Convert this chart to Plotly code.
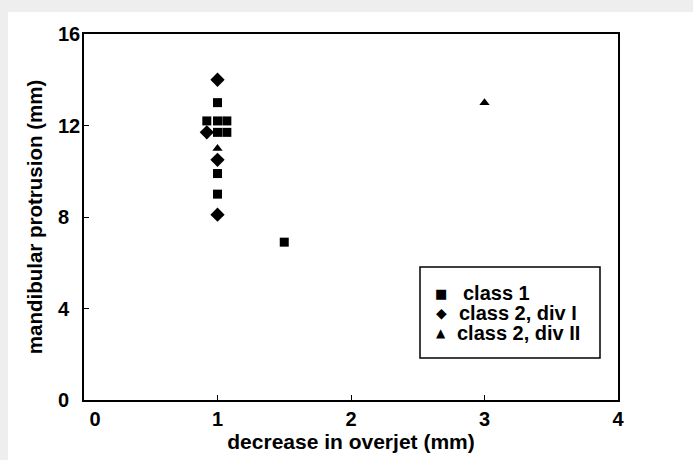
import plotly.graph_objects as go

# Data
class1_x = [1.0, 0.92, 1.0, 1.07, 1.0, 1.07, 1.0, 1.0, 1.5]
class1_y = [13.0, 12.2, 12.2, 12.2, 11.7, 11.7, 9.9, 9.0, 6.9]
class2i_x = [1.0, 0.92, 1.0, 1.0]
class2i_y = [14.0, 11.7, 10.5, 8.1]
class2ii_x = [1.0, 3.0]
class2ii_y = [11.0, 13.0]

series_names = ["class 1", "class 2, div I", "class 2, div II"]
legend_glyphs = ["\u25A0", "\u25C6", "\u25B2"]

x_ticks = [0, 1, 2, 3, 4]
x_ticktext = ["\u00a0\u00a0\u00a0\u00a00", "1", "2", "3", "4"]
y_ticks = [0, 4, 8, 12, 16]
y_ticktext = ["0\u00a0\u00a0", "4\u00a0\u00a0", "8\u00a0\u00a0", "12", "16"]

FONT = "Liberation Sans, Arial, sans-serif"

fig = go.Figure()
fig.add_trace(go.Scatter(x=class1_x, y=class1_y, mode="markers", name=series_names[0],
                         marker=dict(symbol="square", size=9, color="black")))
fig.add_trace(go.Scatter(x=class2i_x, y=class2i_y, mode="markers", name=series_names[1],
                         marker=dict(symbol="diamond", size=11, color="black")))
fig.add_trace(go.Scatter(x=class2ii_x, y=class2ii_y, mode="markers", name=series_names[2],
                         marker=dict(symbol="triangle-up", size=9, color="black")))

axis_common = dict(showgrid=False, zeroline=False, showline=True, linecolor="black",
                   linewidth=1.5, mirror=True, ticks="inside", ticklen=5,
                   tickcolor="black", tickwidth=1, automargin=False,
                   tickfont=dict(family=FONT, size=20, color="black", weight="bold"))

fig.update_xaxes(range=[0, 4], tickvals=x_ticks, ticktext=x_ticktext,
                 ticklabelstandoff=0,
                 title=dict(text="decrease in overjet (mm)" + "\u00a0" * 4,
                            font=dict(family=FONT, size=21, color="black", weight="bold"),
                            standoff=0),
                 **axis_common)
fig.update_yaxes(range=[0, 16], tickvals=y_ticks, ticktext=y_ticktext,
                 ticklabelstandoff=-2,
                 title=dict(text="mandibular protrusion (mm)",
                            font=dict(family=FONT, size=20.5, color="black", weight="bold"),
                            standoff=10),
                 **axis_common)

# Legend drawn inside a framed box (symbols + labels)
PX_L, PX_T, PW, PH = 84, 34, 534, 366
def px(xp):
    return (xp - PX_L) / PW
def py(yp):
    return (PX_T + PH - yp) / PH

legend_rows_y = [293, 313, 333]
legend_text_x = [461, 457, 455]
glyph_sizes = [13, 14, 12]
annotations = []
for name, glyph, gy, tx, gs in zip(series_names, legend_glyphs, legend_rows_y,
                                   legend_text_x, glyph_sizes):
    annotations.append(dict(x=px(441), y=py(gy), xref="paper", yref="paper",
                            text=glyph, showarrow=False, xanchor="center", yanchor="middle",
                            font=dict(family="DejaVu Sans", size=gs, color="black")))
    annotations.append(dict(x=px(tx), y=py(gy), xref="paper", yref="paper",
                            text=name, showarrow=False, xanchor="left", yanchor="middle",
                            font=dict(family=FONT, size=20, color="black", weight="bold")))

fig.update_layout(
    width=693, height=460,
    margin=dict(l=84, r=75, t=34, b=60),
    paper_bgcolor="#eeeeee",
    plot_bgcolor="white",
    showlegend=False,
    annotations=annotations,
    shapes=[
        dict(type="rect", xref="paper", yref="paper",
             x0=px(8), x1=px(693), y0=py(460), y1=py(12),
             fillcolor="white", line=dict(width=0), layer="below"),
        dict(type="rect", xref="paper", yref="paper",
             x0=px(420), x1=px(600), y0=py(358), y1=py(267),
             fillcolor="rgba(0,0,0,0)", line=dict(color="black", width=1.5)),
    ],
)

fig.write_html(
    "out.html",
    config={"displayModeBar": False},
    post_script="document.body.style.margin='0';document.body.style.padding='0';"
                "document.body.style.background='#eeeeee';",
)
